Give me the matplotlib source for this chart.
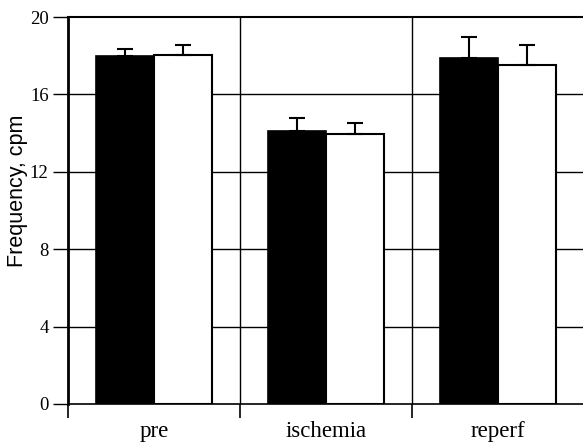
import matplotlib
matplotlib.use('Agg')
import matplotlib.pyplot as plt
import numpy as np

groups = ['pre', 'ischemia', 'reperf']
black_vals = [18.0, 14.1, 17.9]
black_err = [0.37, 0.68, 1.08]
white_vals = [18.05, 13.93, 17.52]
white_err = [0.5, 0.6, 1.03]
y_ticks = [0, 4, 8, 12, 16, 20]

fig = plt.figure(figsize=(5.83, 4.42), dpi=100)
ax = fig.add_axes([68 / 583, 1 - 404 / 442, 516 / 583, 387 / 442])

x = np.arange(len(groups))
w = 0.336
ax.bar(x - w / 2, black_vals, w, color='black', edgecolor='black',
       linewidth=1.2, zorder=3)
ax.bar(x + w / 2, white_vals, w, color='white', edgecolor='black',
       linewidth=1.5, zorder=3)
ax.errorbar(x - w / 2, black_vals, yerr=[np.zeros(3), black_err], fmt='none',
            ecolor='black', elinewidth=1.5, capsize=5.5, capthick=1.5, zorder=4)
ax.errorbar(x + w / 2, white_vals, yerr=[np.zeros(3), white_err], fmt='none',
            ecolor='black', elinewidth=1.5, capsize=5.5, capthick=1.5, zorder=4)

# horizontal grid behind the bars
for yv in y_ticks[1:-1]:
    ax.axhline(yv, color='black', linewidth=1.0, zorder=1)
# group separators
for xv in [0.5, 1.5]:
    ax.axvline(xv, color='black', linewidth=1.0, zorder=1)

ax.set_xlim(-0.5, 2.5)
ax.set_ylim(0, 20)

ax.set_yticks(y_ticks)
ax.set_yticklabels([str(v) for v in y_ticks], family='Liberation Serif',
                   fontsize=13.5)
ax.tick_params(axis='y', direction='out', length=11, width=1.0, pad=3)

ax.set_xticks([-0.5, 0.5, 1.5, 2.5])
ax.set_xticklabels([])
ax.set_xticks(x, minor=True)
ax.set_xticklabels(groups, minor=True, family='Liberation Serif', fontsize=16.5)
ax.tick_params(axis='x', which='major', direction='out', length=10, width=1.2)
ax.tick_params(axis='x', which='minor', length=0, pad=12)

ax.set_ylabel('Frequency, cpm', family='Liberation Sans', fontsize=15.5)
ax.yaxis.set_label_coords(-0.077, 0.55)

ax.spines['left'].set_linewidth(2.0)
ax.spines['top'].set_linewidth(1.5)
ax.spines['bottom'].set_linewidth(1.2)
ax.spines['right'].set_linewidth(1.2)

fig.savefig('out.png', dpi=100)
